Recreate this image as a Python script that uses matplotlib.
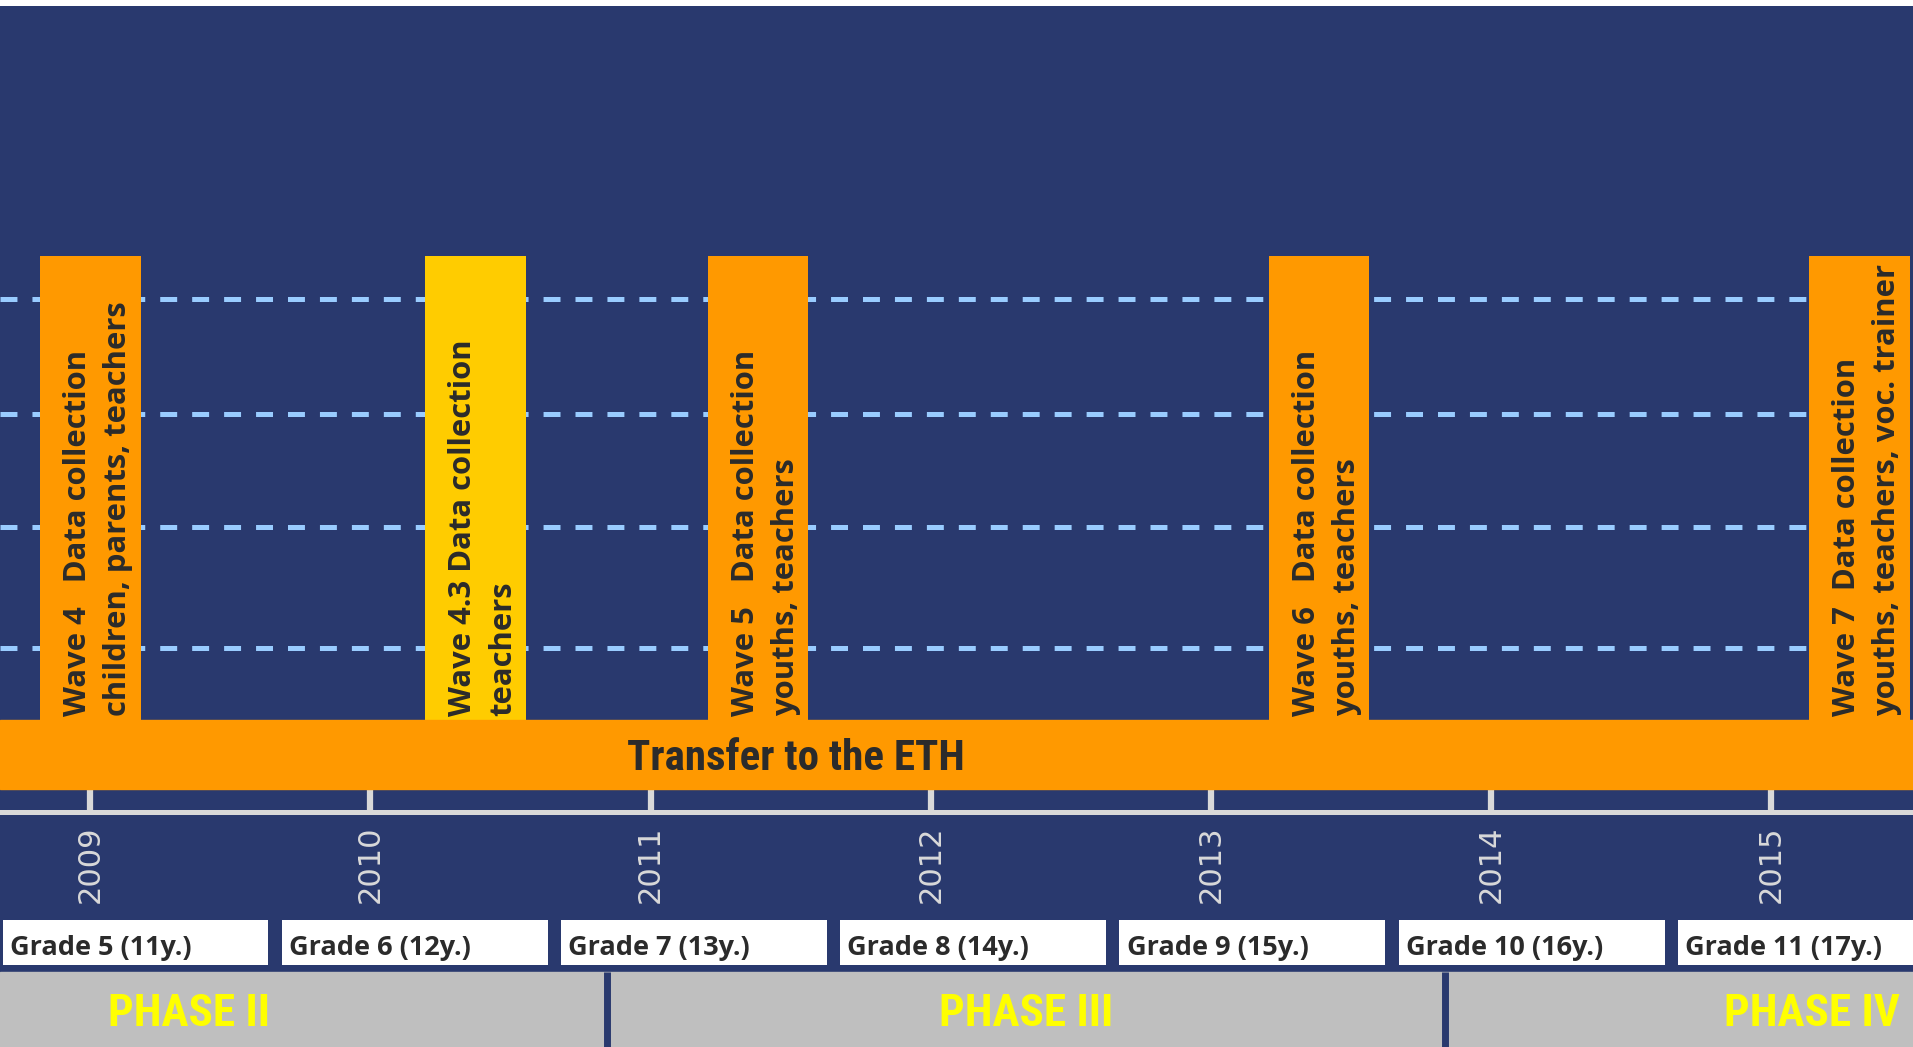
import matplotlib
matplotlib.use("Agg")
import matplotlib.pyplot as plt
import numpy as np

# --- data -------------------------------------------------------------
years = [2009, 2010, 2011, 2012, 2013, 2014, 2015]
grade_labels = ["Grade 5 (11y.)", "Grade 6 (12y.)", "Grade 7 (13y.)", "Grade 8 (14y.)",
                "Grade 9 (15y.)", "Grade 10 (16y.)", "Grade 11 (17y.)"]

wave_labels = ["Wave 4   Data collection\nchildren, parents, teachers",
               "Wave 4.3 Data collection\nteachers",
               "Wave 5   Data collection\nyouths, teachers",
               "Wave 6   Data collection\nyouths, teachers",
               "Wave 7  Data collection\nyouths, teachers, voc. trainer"]
wave_times = [2009.0, 2010.375, 2011.383, 2013.385, 2015.313]
wave_is_extra = [False, True, False, False, False]

phase_labels = ["PHASE II", "PHASE III", "PHASE IV"]
phase_label_pos = [2009.353, 2012.34, 2015.145]
phase_breaks = [2010.846, 2013.835]

band_label = "Transfer to the ETH"

# --- style ------------------------------------------------------------
NAVY = "#29396E"
ORANGE = "#FF9900"
YELLOW = "#FFCC00"
GRID = "#99CCFF"
LIGHT = "#D9D9D9"
DARK = "#2B2B2B"
GRAY = "#BFBFBF"
PHASE_YEL = "#FFFF00"

NARROW = ["Roboto Condensed", "Liberation Sans Narrow", "Lato", "DejaVu Sans"]
SANS = ["Open Sans", "DejaVu Sans"]

plt.rcParams["lines.scale_dashes"] = False

W, H = 1913, 1047
fig = plt.figure(figsize=(W / 100, H / 100), dpi=100, facecolor="white")

axis_y = 811.5   # pixel row of the time axis
top_y = 6
ax = fig.add_axes([0, (H - axis_y) / H, 1, (axis_y - top_y) / H])
ax2 = fig.add_axes([0, 0, 1, (H - axis_y) / H])
ax.set_zorder(2)
ax2.set_zorder(1)

xlim = (2008.678, 2015.505)

# upper panel: y in pixels above the axis line
ax.set_facecolor(NAVY)
ax.set_xlim(*xlim)
ax.set_ylim(0, axis_y - top_y)

for lvl in [163.5, 284.5, 397.8, 512.5]:
    ax.axhline(lvl, color=GRID, lw=3.6, linestyle=(0, (12.2, 10.8)), zorder=1)

bar_bottom, bar_top = 91.5, 555.5
ax.bar(wave_times, bar_top - bar_bottom, bottom=bar_bottom, width=0.36,
       color=[YELLOW if e else ORANGE for e in wave_is_extra], zorder=2)

ax.axhspan(22.5, bar_bottom, color=ORANGE, zorder=3)
ax.text(2011.52, (22.5 + bar_bottom) / 2 - 4, band_label, ha="center", va="center",
        fontsize=31, fontweight="bold", color=DARK, family=NARROW, zorder=4)

for t, lab in zip(wave_times, wave_labels):
    ax.text(t + 0.028, bar_bottom + 4, lab, rotation=90, ha="center", va="bottom",
            multialignment="left", fontsize=22.3, fontweight="bold", color=DARK,
            family=SANS, linespacing=1.46, zorder=4)

for s in ["left", "right", "top"]:
    ax.spines[s].set_visible(False)
ax.spines["bottom"].set_color(LIGHT)
ax.spines["bottom"].set_linewidth(3.6)
ax.set_yticks([])
ax.set_xticks(years)
ax.set_xticklabels([str(y) for y in years], rotation=90, family="DejaVu Sans")
ax.tick_params(axis="x", direction="in", length=16.2, width=4.5, color=LIGHT,
               labelcolor=LIGHT, labelsize=22, pad=10)

# lower panel: grades and phases, y in pixels above the figure bottom
ax2.set_xlim(*xlim)
ax2.set_ylim(0, H - axis_y)
ax2.axis("off")
ax2.add_patch(plt.Rectangle((0, 0), 1, 1, transform=ax2.transAxes, color=NAVY, zorder=0))

# grade boxes sit slightly tighter than the year ticks
box_left = np.array(years) - 0.313 - (np.array(years) - years[0]) * 0.0035
ax2.bar(box_left, 45, bottom=82, width=0.949, align="edge", color="white", zorder=1)
for x, lab in zip(box_left, grade_labels):
    ax2.text(x + 0.026, 92, lab, ha="left", va="baseline", fontsize=19.5,
             fontweight="bold", color=DARK, family=SANS, zorder=2)

ax2.axhspan(0, 75, color=GRAY, zorder=1)
ax2.vlines(phase_breaks, 0, 75, color=NAVY, lw=5, zorder=2)
for x, lab in zip(phase_label_pos, phase_labels):
    ax2.text(x, 32.5, lab, ha="center", va="center", fontsize=32.5, fontweight="bold",
             color=PHASE_YEL, family=NARROW, zorder=3)

fig.savefig("out.png", dpi=100, facecolor="white")
